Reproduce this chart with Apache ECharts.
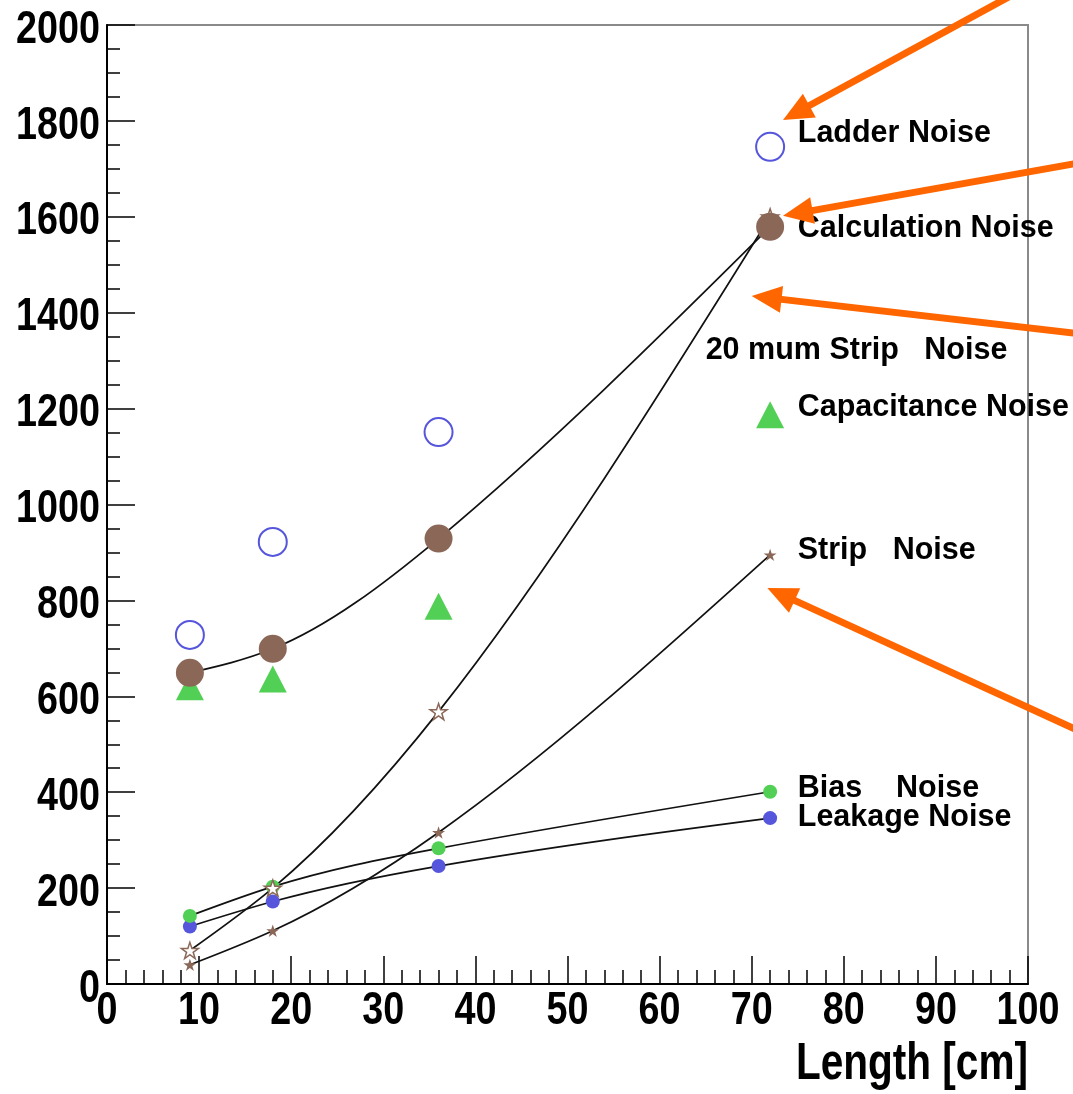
<!DOCTYPE html>
<html>
<head>
<meta charset="utf-8">
<script src="https://cdn.jsdelivr.net/npm/echarts@6/dist/echarts.min.js"></script>
<style>
  html, body { margin: 0; padding: 0; background: #ffffff; }
  #chart { width: 1073px; height: 1094px; }
</style>
</head>
<body>
<div id="chart"></div>
<script>
// Ladder lengths [cm] at which the noise was evaluated
const lengths = [9, 18, 36, 72];

// Noise contributions (electrons) per ladder length
const ladderNoise      = [728, 922, 1151, 1746];
const calculationNoise = [649, 699, 929, 1579];
const capacitanceNoise = [620, 636, 788, 1187];
const strip20Noise     = [70, 200, 568, 1600];
const stripNoise       = [40, 111, 316, 895];
const biasNoise        = [142, 203, 283, 401];
const leakageNoise     = [120, 172, 246, 346];

// Axis ranges and tick labels
const xRange = { min: 0, max: 100, step: 10 };
const yRange = { min: 0, max: 2000, step: 200 };
const xTickLabels = [0, 10, 20, 30, 40, 50, 60, 70, 80, 90, 100];
const yTickLabels = [0, 200, 400, 600, 800, 1000, 1200, 1400, 1600, 1800, 2000];
const xTitle = 'Length [cm]';

// Series names, also written next to the curves
const names = {
  ladder: 'Ladder Noise',
  calc: 'Calculation Noise',
  strip20: '20 mum Strip   Noise',
  cap: 'Capacitance Noise',
  strip: 'Strip   Noise',
  bias: 'Bias    Noise',
  leak: 'Leakage Noise'
};

const BROWN = '#8b6757';
const GREEN = '#52d055';
const BLUE = '#5656dc';
const ORANGE = '#ff6600';
const STAR = 'path://M50,0 L61.8,35.3 L98.9,35.3 L68.9,57.1 L80.2,92.7 L50,70.8 L19.8,92.7 L31.1,57.1 L1.1,35.3 L38.2,35.3 Z';
const FONT = '"Liberation Sans", Arial, Helvetica, sans-serif';
// Axis numbers are set in a narrow bold face: regular bold squeezed horizontally
const NARROW = 0.82;

const pairs = (ys) => lengths.map((x, i) => [x, ys[i]]);

// Knot slopes of a natural cubic spline through (xs, ys)
function splineSlopes(xs, ys) {
  const n = xs.length;
  const h = [], a = [], b = [], c = [], r = [];
  for (let i = 0; i < n - 1; i++) h.push(xs[i + 1] - xs[i]);
  // tridiagonal system for second derivatives, natural ends (M0 = Mn-1 = 0)
  const M = new Array(n).fill(0);
  if (n > 2) {
    for (let i = 1; i < n - 1; i++) {
      a.push(h[i - 1]);
      b.push(2 * (h[i - 1] + h[i]));
      c.push(h[i]);
      r.push(6 * ((ys[i + 1] - ys[i]) / h[i] - (ys[i] - ys[i - 1]) / h[i - 1]));
    }
    const m = b.length;
    for (let i = 1; i < m; i++) {
      const w = a[i] / b[i - 1];
      b[i] -= w * c[i - 1];
      r[i] -= w * r[i - 1];
    }
    const sol = new Array(m);
    sol[m - 1] = r[m - 1] / b[m - 1];
    for (let i = m - 2; i >= 0; i--) sol[i] = (r[i] - c[i] * sol[i + 1]) / b[i];
    for (let i = 0; i < m; i++) M[i + 1] = sol[i];
  }
  const d = [];
  for (let i = 0; i < n - 1; i++) {
    d.push((ys[i + 1] - ys[i]) / h[i] - h[i] * (2 * M[i] + M[i + 1]) / 6);
  }
  const last = n - 2;
  d.push((ys[n - 1] - ys[n - 2]) / h[last] + h[last] * (M[last] + 2 * M[n - 1]) / 6);
  return d;
}

// Smooth black curve through a series' points, one Bezier segment per interval
const smoothCurve = (name, ys) => {
  const slopes = splineSlopes(lengths, ys);
  return {
    name: name + ' curve', type: 'custom', data: pairs(ys), silent: true,
    z: 1, clip: true, animation: false,
    renderItem: (params, api) => {
      const i = params.dataIndex;
      if (i >= lengths.length - 1) return null;
      const x0 = lengths[i], x1 = lengths[i + 1], hh = (x1 - x0) / 3;
      const p0 = api.coord([x0, ys[i]]);
      const c0 = api.coord([x0 + hh, ys[i] + hh * slopes[i]]);
      const c1 = api.coord([x1 - hh, ys[i + 1] - hh * slopes[i + 1]]);
      const p1 = api.coord([x1, ys[i + 1]]);
      return {
        type: 'bezierCurve',
        shape: { x1: p0[0], y1: p0[1], cpx1: c0[0], cpy1: c0[1], cpx2: c1[0], cpy2: c1[1], x2: p1[0], y2: p1[1] },
        style: { stroke: '#111', lineWidth: 1.7, fill: null }
      };
    }
  };
};

const markers = (name, ys, symbol, size, itemStyle) => ({
  name, type: 'scatter', data: pairs(ys), z: 2,
  symbol, symbolSize: size, symbolKeepAspect: true,
  itemStyle: Object.assign({ opacity: 1 }, itemStyle),
  emphasis: { disabled: true }, animation: false
});

const chart = echarts.init(document.getElementById('chart'), null, { renderer: 'canvas' });

const axisCommon = {
  type: 'value',
  axisLine: { show: true, onZero: false, lineStyle: { color: '#000', width: 2 } },
  axisTick: { show: true, inside: true, length: 28, lineStyle: { color: '#000', width: 1.5 } },
  splitLine: { show: false },
  // numbers are drawn below as condensed text at the axis' own tick positions
  axisLabel: { show: false }
};

const option = {
  backgroundColor: '#ffffff',
  animation: false,
  grid: {
    left: 107, right: 45, top: 25, bottom: 110,
    containLabel: false, outerBoundsMode: 'none',
    show: true, borderColor: '#8a8a8a', borderWidth: 2
  },
  xAxis: Object.assign({}, axisCommon, {
    min: xRange.min, max: xRange.max, interval: xRange.step,
    minorTick: { show: true, splitNumber: 5, length: 14, lineStyle: { color: '#000', width: 1.5 } }
  }),
  yAxis: Object.assign({}, axisCommon, {
    min: yRange.min, max: yRange.max, interval: yRange.step,
    minorTick: { show: true, splitNumber: 4, length: 13, lineStyle: { color: '#000', width: 1.5 } }
  }),
  series: [
    smoothCurve(names.leak, leakageNoise),
    smoothCurve(names.bias, biasNoise),
    smoothCurve(names.strip, stripNoise),
    smoothCurve(names.strip20, strip20Noise),
    smoothCurve(names.calc, calculationNoise),
    markers(names.leak, leakageNoise, 'circle', 14, { color: BLUE }),
    markers(names.bias, biasNoise, 'circle', 14, { color: GREEN }),
    markers(names.strip, stripNoise, STAR, 13, { color: BROWN }),
    markers(names.strip20, strip20Noise, STAR, 17, { color: '#ffffff', borderColor: BROWN, borderWidth: 1.5 }),
    markers(names.cap, capacitanceNoise, 'triangle', [28, 27], { color: GREEN }),
    markers(names.calc, calculationNoise, 'circle', 28, { color: BROWN }),
    markers(names.ladder, ladderNoise, 'circle', 28, { color: 'rgba(255,255,255,0)', borderColor: BLUE, borderWidth: 2 })
  ]
};

chart.setOption(option);

// Text annotations, anchored in data coordinates (left edge, vertical centre)
const annotations = [
  { text: names.ladder,  at: [75, 1773] },
  { text: names.calc,    at: [75, 1575] },
  { text: names.strip20, at: [65, 1322] },
  { text: names.cap,     at: [75, 1202] },
  { text: names.strip,   at: [75, 903] },
  { text: names.bias,    at: [75, 407] },
  { text: names.leak,    at: [75, 346] }
];

// Orange pointer arrows: tail and tip in data coordinates
const arrows = [
  { from: [101.3, 2094], to: [73.4, 1802] },
  { from: [106, 1714], to: [73.4, 1602] },
  { from: [106, 1355], to: [70.0, 1435] },
  { from: [106, 524], to: [71.7, 826] }
];

const toPx = (p) => chart.convertToPixel({ gridIndex: 0 }, p);
const [axisX0, axisY0] = toPx([xRange.min, yRange.min]);
const [axisX1] = toPx([xRange.max, yRange.min]);

const graphic = [];

// Axis numbers
xTickLabels.forEach((v) => {
  const x = chart.convertToPixel({ xAxisIndex: 0 }, v);
  graphic.push({
    type: 'text', x, y: axisY0 + 27.5, scaleX: NARROW, z: 10, silent: true,
    style: { text: String(v), fill: '#000', fontFamily: FONT, fontWeight: 'bold', fontSize: 46, align: 'center', verticalAlign: 'middle' }
  });
});
yTickLabels.forEach((v) => {
  const y = chart.convertToPixel({ yAxisIndex: 0 }, v);
  graphic.push({
    type: 'text', x: axisX0 - 7, y: y + 5, scaleX: NARROW, z: 10, silent: true,
    style: { text: String(v), fill: '#000', fontFamily: FONT, fontWeight: 'bold', fontSize: 46, align: 'right', verticalAlign: 'middle' }
  });
});

// Axis title, right-aligned under the end of the axis
graphic.push({
  type: 'text', x: axisX1, y: axisY0 + 81, scaleX: 0.78, z: 10, silent: true,
  style: { text: xTitle, fill: '#000', fontFamily: FONT, fontWeight: 'bold', fontSize: 52, align: 'right', verticalAlign: 'middle' }
});

annotations.forEach((a) => {
  const [x, y] = toPx(a.at);
  graphic.push({
    type: 'text', x, y, z: 20, silent: true,
    style: {
      text: a.text, fill: '#000', fontFamily: FONT, fontWeight: 'bold', fontSize: 30.5,
      align: 'left', verticalAlign: 'middle'
    }
  });
});

const HEAD_LEN = 30, HEAD_W = 27, SHAFT_W = 7;
arrows.forEach((a) => {
  const [x0, y0] = toPx(a.from);
  const [x1, y1] = toPx(a.to);
  const len = Math.hypot(x1 - x0, y1 - y0);
  const ux = (x1 - x0) / len, uy = (y1 - y0) / len;
  const nx = -uy, ny = ux;
  const bx = x1 - ux * HEAD_LEN, by = y1 - uy * HEAD_LEN;
  graphic.push({
    type: 'line', z: 30, silent: true,
    shape: { x1: x0, y1: y0, x2: bx + ux * 2, y2: by + uy * 2 },
    style: { stroke: ORANGE, lineWidth: SHAFT_W, lineCap: 'butt' }
  });
  graphic.push({
    type: 'polygon', z: 30, silent: true,
    shape: { points: [[x1, y1], [bx + nx * HEAD_W / 2, by + ny * HEAD_W / 2], [bx - nx * HEAD_W / 2, by - ny * HEAD_W / 2]] },
    style: { fill: ORANGE }
  });
});

chart.setOption({ graphic });
</script>
</body>
</html>
